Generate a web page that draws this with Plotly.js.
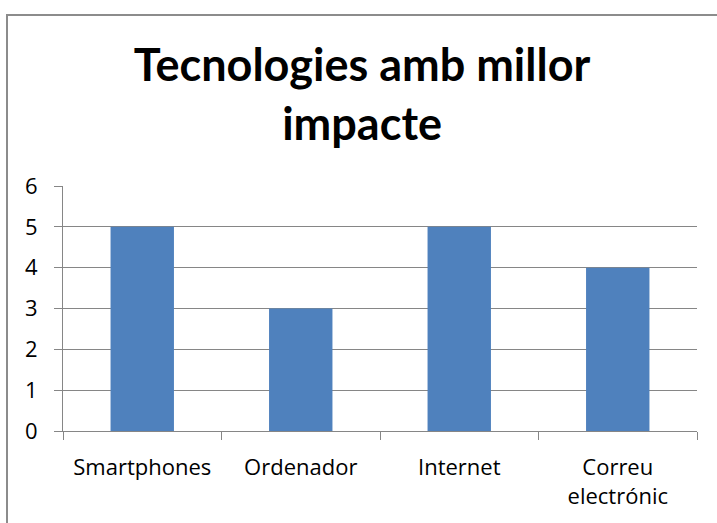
<!DOCTYPE html>
<html>
<head>
<meta charset="utf-8">
<script src="https://cdn.plot.ly/plotly-3.0.1.min.js"></script>
<style>
html,body{margin:0;padding:0;overflow:hidden;background:#fff;}
#chart{width:717px;height:523px;}
#frame{position:absolute;left:6px;top:14px;width:800px;height:700px;border-left:2px solid #8c8c8c;border-top:2px solid #8c8c8c;pointer-events:none;}
</style>
</head>
<body>
<div id="chart"></div>
<div id="frame"></div>
<script>
const categories = ["Smartphones", "Ordenador", "Internet", "Correu<br>electrónic"];
const values = [5, 3, 5, 4];
const yTicks = [0, 1, 2, 3, 4, 5, 6];
const titleText = "<b>Tecnologies amb millor<br>impacte</b>";

const titleFont = "Lato, 'Open Sans', sans-serif";
const tickFont = "'Open Sans', Lato, sans-serif";

Plotly.newPlot("chart", [{
  type: "bar",
  x: categories,
  y: values,
  marker: {color: "#4F81BD"},
  hoverinfo: "none"
}], {
  width: 717, height: 523,
  margin: {l: 63, r: 20, t: 186, b: 92},
  paper_bgcolor: "#fff",
  plot_bgcolor: "#fff",
  bargap: 0.6,
  showlegend: false,
  title: {
    text: titleText,
    font: {family: titleFont, size: 45, color: "#000"},
    x: 0.505, xanchor: "center",
    y: 0.845, yanchor: "middle"
  },
  xaxis: {
    type: "category",
    tickson: "boundaries",
    ticks: "outside",
    ticklen: 8,
    tickcolor: "#868686",
    tickwidth: 1,
    showline: true,
    linecolor: "#868686",
    linewidth: 1,
    showgrid: false,
    tickfont: {family: tickFont, size: 22, color: "#000"},
    ticklabelstandoff: 17
  },
  yaxis: {
    range: [0, 6],
    tickvals: yTicks,
    ticks: "outside",
    ticklen: 8,
    tickcolor: "#868686",
    showline: true,
    linecolor: "#868686",
    showgrid: true,
    gridcolor: "#868686",
    gridwidth: 1,
    zeroline: false,
    tickfont: {family: tickFont, size: 22, color: "#000"},
    ticklabelstandoff: 12
  }
}, {staticPlot: true});
</script>
</body>
</html>
